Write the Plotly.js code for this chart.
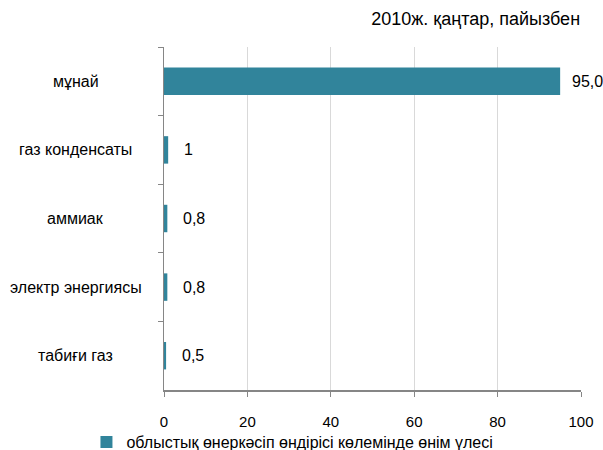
<!DOCTYPE html>
<html>
<head>
<meta charset="utf-8">
<script src="https://cdn.plot.ly/plotly-3.0.1.min.js"></script>
<style>html,body{margin:0;padding:0;background:#fff;}#chart{width:603px;height:450px;}</style>
</head>
<body>
<div id="chart"></div>
<script>
const categories = ["мұнай", "газ конденсаты", "аммиак", "электр энергиясы", "табиғи газ"];
const values = [95.0, 1, 0.8, 0.8, 0.5];
const valueLabels = ["95,0", "1", "0,8", "0,8", "0,5"];
const xTicks = [0, 20, 40, 60, 80, 100];
const seriesName = "облыстық өнеркәсіп өндірісі көлемінде өнім үлесі";
const chartTitle = "2010ж. қаңтар, пайызбен";

const FONT = "Liberation Sans, Arial, sans-serif";
const barColor = "#31849B";

const trace = {
  type: "bar",
  orientation: "h",
  x: values,
  y: categories,
  name: seriesName,
  marker: {color: barColor},
  showlegend: true,
  hoverinfo: "none"
};

const annotations = [];
categories.forEach((c, i) => {
  annotations.push({
    xref: "paper", yref: "y", x: -0.212, y: c,
    text: c, showarrow: false, xanchor: "center", yanchor: "middle",
    font: {family: FONT, size: 16, color: "#000"}
  });
  annotations.push({
    xref: "x", yref: "y", x: values[i], y: c,
    text: valueLabels[i], showarrow: false, xanchor: "left", yanchor: "middle",
    xshift: values[i] > 50 ? 10 : 14,
    font: {family: FONT, size: 16, color: "#000"}
  });
});

const layout = {
  width: 603, height: 450,
  paper_bgcolor: "#fff", plot_bgcolor: "#fff",
  margin: {l: 164, r: 22, t: 47, b: 60, autoexpand: false},
  font: {family: FONT, size: 16, color: "#000"},
  title: {
    text: chartTitle, xref: "container", yref: "container",
    x: 0.962, xanchor: "right", y: 0.958, yanchor: "middle",
    font: {family: FONT, size: 18, color: "#000"}
  },
  bargap: 0.6,
  xaxis: {
    range: [0, 100], tickvals: xTicks, ticktext: xTicks.map(String),
    showgrid: true, gridcolor: "#d9d9d9", gridwidth: 1,
    zeroline: false, showline: true, linecolor: "#868686", linewidth: 1.5,
    ticks: "outside", ticklen: 5, tickcolor: "#868686",
    ticklabelstandoff: 12,
    tickfont: {family: FONT, size: 15, color: "#000"}, fixedrange: true
  },
  yaxis: {
    type: "category", categoryorder: "array", categoryarray: categories,
    autorange: "reversed",
    showticklabels: false, showgrid: false, zeroline: false,
    showline: true, linecolor: "#868686", linewidth: 1.5,
    ticks: "outside", tickson: "boundaries", ticklen: 5, tickcolor: "#868686"
  },
  legend: {
    orientation: "h", xref: "container", yref: "paper",
    x: 0.485, xanchor: "center", y: -0.152, yanchor: "middle",
    bgcolor: "rgba(0,0,0,0)",
    font: {family: FONT, size: 16, color: "#000"}
  },
  annotations: annotations
};

Plotly.newPlot("chart", [trace], layout, {displayModeBar: false, staticPlot: true});
</script>
</body>
</html>
